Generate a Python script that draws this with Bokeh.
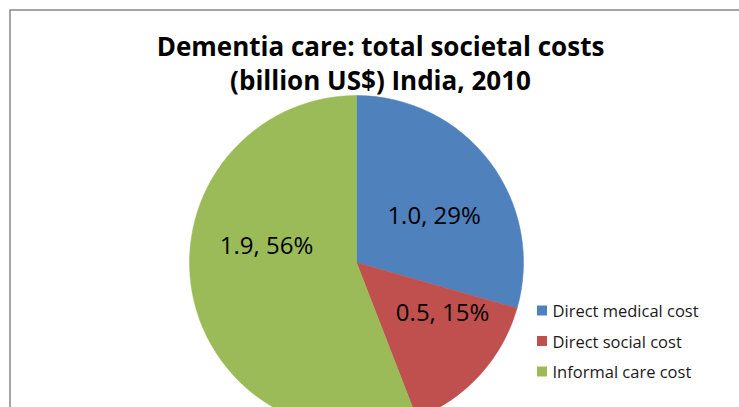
import math
from bokeh.plotting import figure
from bokeh.models import ColumnDataSource
from bokeh.core.properties import value
from bokeh.embed import file_html
from bokeh.resources import INLINE

# ---- data ----
categories = ["Direct medical cost", "Direct social cost", "Informal care cost"]
costs = [1.0, 0.5, 1.9]          # billion US$
title_lines = ["Dementia care: total societal costs", "(billion US$) India, 2010"]

# ---- style / layout ----
colors = ["#4F81BD", "#C0504D", "#9BBB59"]
FONT = "Open Sans"
W, H = 739, 407
CX, CY, R = 356, 145, 167          # pie centre / radius in px (data units == px)
label_r = 0.56
label_nudge = [(3, -8), (17, 14), (2, 35)]   # per slice, px

total = sum(costs)
pcts = [round(100 * v / total) for v in costs]
labels = [f"{v:.1f}, {pc}%" for v, pc in zip(costs, pcts)]

starts, ends, lx, ly = [], [], [], []
cum = 0.0
for i, v in enumerate(costs):
    a0 = math.pi / 2 - 2 * math.pi * cum / total
    cum += v
    a1 = math.pi / 2 - 2 * math.pi * cum / total
    starts.append(a0)
    ends.append(a1)
    mid = (a0 + a1) / 2
    lx.append(CX + label_r * R * math.cos(mid) + label_nudge[i][0])
    ly.append(CY + label_r * R * math.sin(mid) + label_nudge[i][1])

src = ColumnDataSource(dict(cat=categories, start=starts, end=ends,
                            color=colors, lx=lx, ly=ly, label=labels))

p = figure(width=W, height=H, x_range=(0, W), y_range=(0, H),
           x_axis_type=None, y_axis_type=None, min_border=0,
           output_backend="svg", toolbar_location=None)
p.grid.visible = False
p.outline_line_color = None
p.background_fill_color = "white"
p.border_fill_color = "white"

p.wedge(x=CX, y=CY, radius=R, start_angle="start", end_angle="end",
        direction="clock", fill_color="color", line_color="color",
        line_width=0.5, source=src)

p.text(x="lx", y="ly", text="label", source=src, text_align="center",
       text_baseline="middle", text_font=value(FONT), text_font_size="24px",
       text_color="black")

# title
tsrc = ColumnDataSource(dict(x=[380, 380], y=[361.5, 328], t=title_lines))
p.text(x="x", y="y", text="t", source=tsrc, text_align="center",
       text_baseline="alphabetic", text_font=value(FONT),
       text_font_size="26px", text_font_style="bold", text_color="black")

# legend
leg_y = [97, 66.5, 36]
lsrc = ColumnDataSource(dict(x=[541.5] * 3, tx=[552] * 3, y=leg_y,
                             cat=categories, color=colors))
p.rect(x="x", y="y", width=10, height=10, fill_color="color",
       line_color=None, source=lsrc)
p.text(x="tx", y="y", text="cat", source=lsrc, text_align="left",
       text_baseline="middle", text_font=value(FONT), text_font_size="16.5px",
       text_color="#1a1a1a")

# chart-area border (cropped: only top and left edges visible)
p.line(x=[9.5, 9.5, W + 5], y=[-5, 397.5, 397.5], line_color="#878787",
       line_width=1.5)

open("out.html", "w").write(file_html(p, INLINE))
